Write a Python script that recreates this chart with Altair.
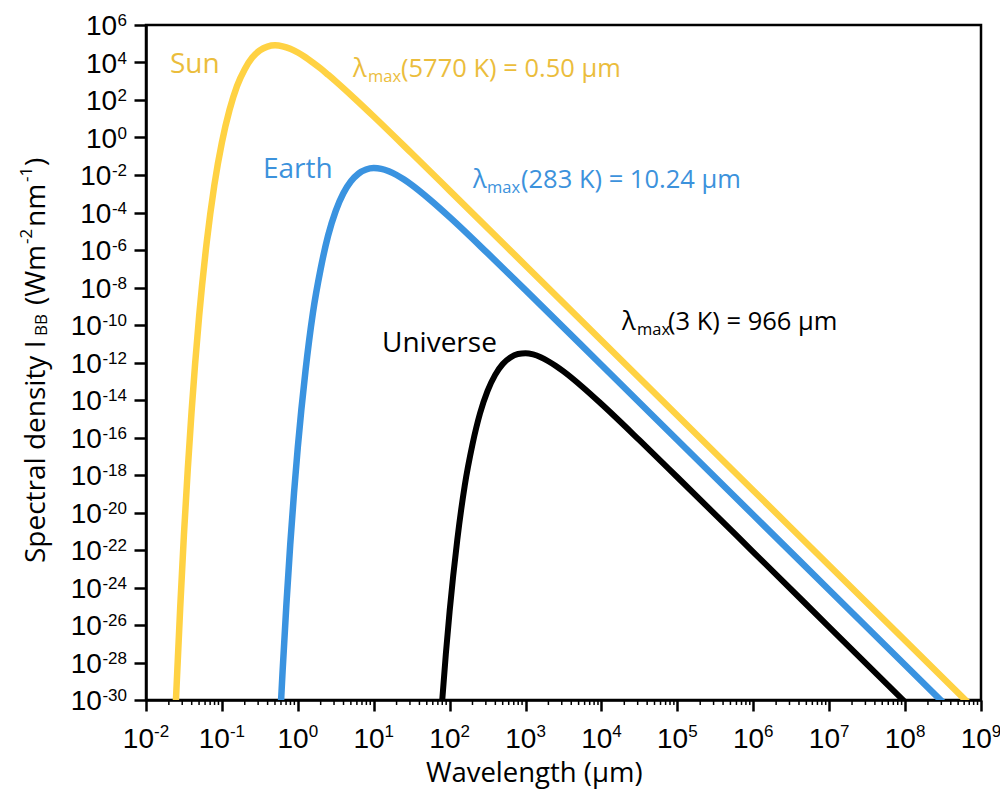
import altair as alt
import pandas as pd

# ---- data (wavelength in µm, spectral density in W m^-2 nm^-1)
sun_wl = [0.0245, 0.0251, 0.0282, 0.0316, 0.0355, 0.0398, 0.0501, 0.0631, 0.0794, 0.1,
          0.126, 0.158, 0.200, 0.251, 0.316, 0.398, 0.501, 0.631, 0.794, 1.0,
          1.26, 1.58, 2.0, 2.51, 3.16, 5.62, 10, 31.6, 100, 1e3,
          1e4, 1e5, 1e6, 1e7, 1e8, 1e9]
sun_I = [3.2e-31, 2.9e-30, 7.8e-26, 6.6e-22, 2.0e-18, 2.3e-15, 2.9e-10, 2.6e-6, 2.8e-3, 0.55,
         29.5, 550, 4.4e3, 1.83e4, 4.46e4, 7.1e4, 8.2e4, 7.3e4, 5.4e4, 3.4e4,
         1.9e4, 9.8e3, 4.75e3, 2.2e3, 986, 119, 13.2, 0.144, 1.48e-3, 1.50e-7,
         1.50e-11, 1.50e-15, 1.50e-19, 1.50e-23, 1.50e-27, 1.50e-31]

earth_wl = [0.589, 0.631, 0.708, 0.794, 0.891, 1.0, 1.26, 1.58, 2.0, 2.51,
            3.16, 3.98, 5.01, 6.31, 7.94, 10, 12.6, 15.8, 20.0, 25.1,
            31.6, 56.2, 100, 316, 1e3, 1e4, 1e5, 1e6, 1e7, 1e8, 1e9]
earth_I = [1.7e-31, 3.8e-29, 1.35e-25, 1.9e-22, 1.1e-19, 3.1e-17, 3.4e-13, 4.4e-10, 1.0e-7, 6.0e-6,
           1.23e-4, 1.06e-3, 4.6e-3, 1.19e-2, 1.97e-2, 2.33e-2, 2.12e-2, 1.58e-2, 1.0e-2, 5.7e-3,
           2.96e-3, 4.5e-4, 5.65e-5, 6.8e-7, 7.2e-9, 7.35e-13, 7.36e-17, 7.36e-21, 7.36e-25, 7.36e-29, 7.36e-33]

univ_wl = [79.4, 89.1, 100, 126, 158, 200, 251, 316, 398, 501,
           631, 794, 1000, 1259, 1585, 1995, 2512, 3162, 5623, 1e4,
           31623, 1e5, 1e6, 1e7, 1e8, 1.26e8]
univ_I = [7.1e-31, 2.8e-28, 5.5e-26, 3.4e-22, 2.7e-19, 4.3e-17, 1.9e-15, 3.06e-14, 2.19e-13, 8.26e-13,
          1.87e-12, 2.83e-12, 3.12e-12, 2.68e-12, 1.91e-12, 1.17e-12, 6.5e-13, 3.33e-13, 4.94e-14, 6.08e-15,
          7.2e-17, 7.6e-19, 7.8e-23, 7.8e-27, 7.8e-31, 3.1e-31]

# tick label exponents
x_exponents = [-2, -1, 0, 1, 2, 3, 4, 5, 6, 7, 8, 9]
y_exponents = [-30, -28, -26, -24, -22, -20, -18, -16, -14, -12, -10, -8, -6, -4, -2, 0, 2, 4, 6]
x_ticks = [10.0 ** e for e in x_exponents]
y_ticks = [10.0 ** e for e in y_exponents]
minor_ticks = [k * 10.0 ** e for e in range(-2, 9) for k in range(2, 10)]

W, H = 835, 675
OX, OY = 146, 25  # page position of the plot origin
SUN_LINE, SUN_TXT = "#FFD243", "#EBBD3C"
EARTH_LINE, EARTH_TXT = "#3A93E0", "#3C92DC"
FONT = "Open Sans"
TFONT = "Liberation Sans"
BASE, EXP = 28, 17  # tick label sizes: "10" and its exponent

xscale = alt.Scale(type="log", domain=[1e-2, 1e9], nice=False)
yscale = alt.Scale(type="log", domain=[1e-30, 1e6], nice=False)
x_axis = alt.Axis(values=x_ticks, labels=False, tickSize=11, title=None)
y_axis = alt.Axis(values=y_ticks, labels=False, tickSize=12, title=None)
xenc = alt.X("wl:Q", scale=xscale, axis=x_axis)
yenc = alt.Y("I:Q", scale=yscale, axis=y_axis)


def curve(wl, I, color, width):
    df = pd.DataFrame({"wl": wl, "I": I})
    return alt.Chart(df).mark_line(color=color, strokeWidth=width, clip=True,
                                   interpolate="monotone", strokeCap="butt").encode(x=xenc, y=yenc)


one = pd.DataFrame({"k": [0]})


def txt(s, x, y, size, color, angle=0, font=FONT, align="left"):
    return alt.Chart(one).mark_text(text=s, fontSize=size, color=color, font=font, angle=angle,
                                    align=align, baseline="alphabetic").encode(
        x=alt.value(x), y=alt.value(y))


minor = alt.Chart(pd.DataFrame({"wl": minor_ticks})).mark_rule(
    color="black", strokeWidth=1.5, clip=False).encode(
    x=xenc, y=alt.value(H), y2=alt.value(H + 5))


def char_w(s):
    # approximate advance of an exponent string in the tick font
    return sum(0.333 if c == "-" else 0.556 for c in s) * EXP


# ---- x tick labels: "10" + raised exponent, centred on each tick
x_layers = []
for group in ([e for e in x_exponents if e < 0], [e for e in x_exponents if e >= 0]):
    df = pd.DataFrame({"wl": [10.0 ** e for e in group], "e": [str(e) for e in group]})
    shift = (1.112 * BASE - char_w(str(group[0]))) / 2
    x_layers.append(alt.Chart(df).mark_text(
        text="10", fontSize=BASE, font=TFONT, color="black", align="right",
        baseline="alphabetic", dx=shift, clip=False).encode(x=xenc, y=alt.value(H + 48)))
    x_layers.append(alt.Chart(df).mark_text(
        fontSize=EXP, font=TFONT, color="black", align="left",
        baseline="alphabetic", dx=shift, clip=False).encode(x=xenc, y=alt.value(H + 37), text="e:N"))

# ---- y tick labels: right aligned next to each tick
y_layers = []
EXP_RIGHT = 127 - OX
for group in ([e for e in y_exponents if e <= -10], [e for e in y_exponents if -10 < e < 0],
              [e for e in y_exponents if e >= 0]):
    df = pd.DataFrame({"I": [10.0 ** e for e in group], "e": [str(e) for e in group]})
    y_layers.append(alt.Chart(df).mark_text(
        fontSize=EXP, font=TFONT, color="black", align="right", baseline="alphabetic",
        dy=1, clip=False).encode(x=alt.value(EXP_RIGHT), y=yenc, text="e:N"))
    y_layers.append(alt.Chart(df).mark_text(
        text="10", fontSize=BASE, font=TFONT, color="black", align="right", baseline="alphabetic",
        dy=10, clip=False).encode(x=alt.value(EXP_RIGHT - char_w(str(group[0])) - 0.5), y=yenc))

texts = [
    txt("Sun", 170 - OX, 73 - OY, 28, SUN_TXT),
    txt("Earth", 263 - OX, 178 - OY, 28, EARTH_TXT),
    txt("Universe", 382 - OX, 352 - OY, 28, "black"),
    # lambda_max annotations
    txt("λ", 353 - OX, 77 - OY, 25.5, SUN_TXT),
    txt("max", 368 - OX, 82 - OY, 16.5, SUN_TXT),
    txt("(5770 K) = 0.50 µm", 401 - OX, 77 - OY, 25.5, SUN_TXT),
    txt("λ", 473 - OX, 188 - OY, 25.5, EARTH_TXT),
    txt("max", 487 - OX, 193 - OY, 16.5, EARTH_TXT),
    txt("(283 K) = 10.24 µm", 521 - OX, 188 - OY, 25.5, EARTH_TXT),
    txt("λ", 622 - OX, 330 - OY, 25.5, "black"),
    txt("max", 637 - OX, 335 - OY, 16.5, "black"),
    txt("(3 K) = 966 µm", 668 - OX, 330 - OY, 25.5, "black"),
    # x-axis title
    txt("Wavelength (µm)", 426 - OX, 782 - OY, 27.5, "black"),
    # rotated y-axis title pieces
    txt("Spectral density I", 45 - OX, 563 - OY, 28, "black", angle=270),
    txt("BB", 47 - OX, 336 - OY, 17, "black", angle=270),
    txt("(Wm", 45 - OX, 305 - OY, 28, "black", angle=270),
    txt("-2", 32 - OX, 244 - OY, 17, "black", angle=270),
    txt("nm", 45 - OX, 227 - OY, 28, "black", angle=270),
    txt("-1", 32 - OX, 182 - OY, 17, "black", angle=270),
    txt(")", 45 - OX, 166 - OY, 28, "black", angle=270),
]

chart = alt.layer(
    curve(sun_wl, sun_I, SUN_LINE, 6.5),
    curve(earth_wl, earth_I, EARTH_LINE, 6.5),
    curve(univ_wl, univ_I, "black", 6),
    minor,
    *x_layers,
    *y_layers,
    *texts,
).properties(
    width=W, height=H,
    autosize=alt.AutoSizeParams(type="none"),
    padding={"left": OX - 8, "top": OY - 8, "right": 19, "bottom": 91},
).configure_view(
    stroke="black", strokeWidth=2.5
).configure_axis(
    grid=False, domainColor="black", domainWidth=2.5, tickColor="black", tickWidth=2.5,
)

chart.save("out.html", embed_options={"renderer": "svg", "actions": False})
